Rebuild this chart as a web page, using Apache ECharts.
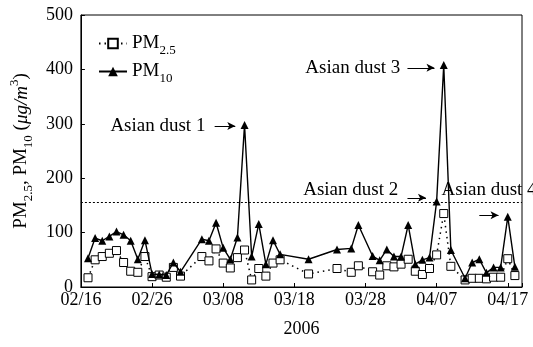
<!DOCTYPE html>
<html>
<head>
<meta charset="utf-8">
<script src="https://cdn.jsdelivr.net/npm/echarts@6/dist/echarts.min.js"></script>
<style>html,body{margin:0;padding:0;background:#fff}#c{width:533px;height:347px}</style>
</head>
<body>
<div id="c"></div>
<script>
// Dates (2006) of the daily samples
var dates = ['02/17','02/18','02/19','02/20','02/21','02/22','02/23','02/24','02/25','02/26','02/27','02/28','03/01','03/02',
  '03/05','03/06','03/07','03/08','03/09','03/10','03/11','03/12','03/13','03/14','03/15','03/16',
  '03/20','03/24','03/26','03/27',
  '03/29','03/30','03/31','04/01','04/02','04/03','04/04','04/05','04/06','04/07','04/08','04/09',
  '04/11','04/12','04/13','04/14','04/15','04/16','04/17','04/18'];
var pm10 = [53,90,85,93,102,96,85,51,86,24,23,22,45,28,
  88,85,118,72,51,91,298,56,116,42,86,60,
  51,69,71,114,
  57,49,69,56,56,114,42,50,54,157,408,68,
  16,45,51,26,36,36,129,37];
var pm25 = [17,50,56,62,67,45,29,27,56,19,22,18,36,20,
  56,48,70,44,35,54,68,13,34,20,44,50,
  24,34,27,39,
  28,22,39,37,42,51,29,23,34,59,135,38,
  13,16,16,15,18,18,52,21];
var tickLabels = ['02/16','02/26','03/08','03/18','03/28','04/07','04/17'];
var startDate = '02/16';
var endDate = '04/19';
var limitValue = 155;
// annotations: text anchor (day offset, value), arrow from/to day offsets and value
var annoTexts = ['Asian dust 1','Asian dust 2','Asian dust 3','Asian dust 4'];
var annoTextX = [17.5, 44.6, 44.9, 50.7];
var annoTextY = [296, 178, 403, 178];
var annoTextSide = ['left','left','left','right'];
var arrowX1 = [18.8, 45.9, 45.9, 56.0];
var arrowX2 = [21.7, 48.5, 49.7, 58.7];
var arrowY = [296, 164, 403, 132];

function dayOf(s){
  var p = s.split('/');
  var t = Date.UTC(2006, +p[0]-1, +p[1]);
  var p0 = startDate.split('/');
  var t0 = Date.UTC(2006, +p0[0]-1, +p0[1]);
  return Math.round((t - t0)/86400000);
}
var FONT = '"Liberation Serif","Times New Roman",serif';
var d10 = dates.map(function(d,i){return [dayOf(d), pm10[i]];});
var d25 = dates.map(function(d,i){return [dayOf(d), pm25[i]];});

var markPts = annoTexts.map(function(t,i){
  return {coord:[annoTextX[i], annoTextY[i]], symbol:'rect', symbolSize:0.01,
    itemStyle:{color:'transparent'},
    label:{show:true, formatter:t, position:annoTextSide[i], distance:0,
      color:'#000', fontFamily:FONT, fontSize:19}};
});
var arrows = annoTexts.map(function(t,i){
  return [{coord:[arrowX1[i], arrowY[i]]},{coord:[arrowX2[i], arrowY[i]]}];
});

var chart = echarts.init(document.getElementById('c'), null, {renderer:'canvas'});
var subRich = {
  sub:{fontSize:13, fontFamily:FONT, color:'#000', verticalAlign:'bottom', lineHeight:12, padding:[0,0,-4,0]},
  sup:{fontSize:13, fontFamily:FONT, color:'#000', verticalAlign:'top', lineHeight:12, padding:[-4,0,0,0]},
  it:{fontSize:19, fontFamily:FONT, color:'#000', fontStyle:'italic'}
};
chart.setOption({
  animation:false,
  backgroundColor:'#fff',
  grid:{left:71, right:11, top:15, bottom:60, show:true, borderColor:'#000', borderWidth:1},
  legend:{
    orient:'vertical', left:93, top:29, itemWidth:28, itemHeight:12, itemGap:5,
    data:['PM2.5','PM10'],
    formatter:function(n){return n==='PM2.5' ? 'PM{sub|2.5}' : 'PM{sub|10}';},
    textStyle:{fontSize:19, fontFamily:FONT, color:'#000', rich:subRich}
  },
  xAxis:{
    type:'value', min:0, max:dayOf(endDate), interval:10,
    name:'2006', nameLocation:'middle', nameGap:33,
    nameTextStyle:{fontSize:18, fontFamily:FONT, color:'#000'},
    axisLine:{lineStyle:{color:'#000', width:1}},
    axisTick:{inside:true, length:4, lineStyle:{color:'#000'}},
    axisLabel:{fontSize:18, fontFamily:FONT, color:'#000', margin:4,
      formatter:function(v){var k=v/10; return (k===Math.round(k) && tickLabels[k]) ? tickLabels[k] : '';}},
    splitLine:{show:false}
  },
  yAxis:{
    type:'value', min:0, max:500, interval:100,
    name:'PM{sub|2.5}, PM{sub|10} ({it|μg/m}{sup|3})', nameLocation:'middle', nameRotate:90, nameGap:45,
    nameTextStyle:{fontSize:19, fontFamily:FONT, color:'#000', rich:subRich},
    axisLine:{show:true, lineStyle:{color:'#000', width:1}},
    axisTick:{show:true, inside:true, length:4, lineStyle:{color:'#000'}},
    axisLabel:{fontSize:18, fontFamily:FONT, color:'#000', margin:8},
    splitLine:{show:false}
  },
  series:[
    {name:'PM2.5', type:'line', data:d25, symbol:'rect', symbolSize:8,
      itemStyle:{color:'#fff', borderColor:'#000', borderWidth:1},
      lineStyle:{color:'#000', width:1.5, type:[1.5,4]}, z:3},
    {name:'PM10', type:'line', data:d10, symbol:'triangle', symbolSize:8,
      itemStyle:{color:'#000'}, lineStyle:{color:'#000', width:1.4}, z:4,
      markLine:{silent:true, symbol:'none', label:{show:false},
        lineStyle:{color:'#000', type:[2,2], width:1},
        data:[{yAxis:limitValue}]},
      markPoint:{silent:true, data:markPts}
    },
    {name:'arrows', type:'line', data:[],
      markLine:{silent:true, symbol:['none','arrow'], symbolSize:[6,8], label:{show:false},
        lineStyle:{color:'#000', type:'solid', width:1},
        data:arrows}}
  ]
});
</script>
</body>
</html>
